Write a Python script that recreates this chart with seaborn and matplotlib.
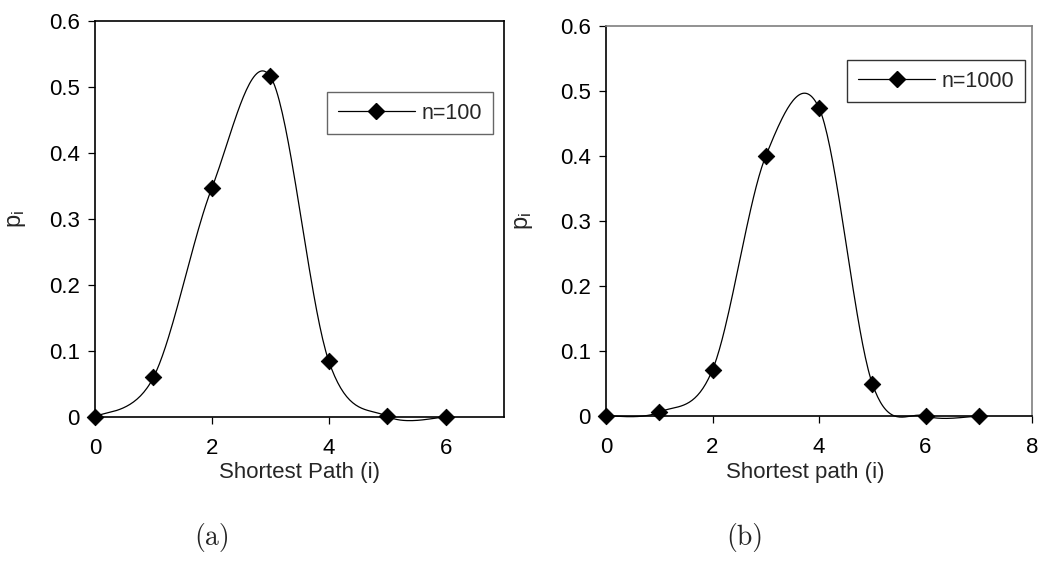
import numpy as np
import matplotlib
matplotlib.use("Agg")
import matplotlib.pyplot as plt
from matplotlib.lines import Line2D
import seaborn as sns

# Shortest-path length distributions
path_a = [0, 1, 2, 3, 4, 5, 6]
prob_a = [0.0, 0.06, 0.347, 0.516, 0.085, 0.001, 0.0]
label_a = "n=100"

path_b = [0, 1, 2, 3, 4, 5, 6, 7]
prob_b = [0.0, 0.006, 0.071, 0.400, 0.474, 0.050, 0.0, 0.0]
label_b = "n=1000"

y_ticks = [0, 0.1, 0.2, 0.3, 0.4, 0.5, 0.6]
y_tick_labels = ["0", "0.1", "0.2", "0.3", "0.4", "0.5", "0.6"]


def smooth_curve(x, y, steps=40):
    """Catmull-Rom cubic Bezier smoothing through every point."""
    x = np.asarray(x, float)
    y = np.asarray(y, float)
    pts = np.column_stack([x, y])
    ext = np.vstack([pts[0], pts, pts[-1]])
    out = []
    t = np.linspace(0, 1, steps)[:, None]
    for i in range(1, len(ext) - 2):
        p0, p1, p2, p3 = ext[i - 1], ext[i], ext[i + 1], ext[i + 2]
        c1 = p1 + (p2 - p0) / 6.0
        c2 = p2 - (p3 - p1) / 6.0
        seg = ((1 - t) ** 3) * p1 + 3 * ((1 - t) ** 2) * t * c1 \
            + 3 * (1 - t) * t ** 2 * c2 + t ** 3 * p2
        out.append(seg if i == 1 else seg[1:])
    curve = np.vstack(out)
    return curve[:, 0], curve[:, 1]


sns.set_style("ticks")
plt.rcParams["font.family"] = ["Liberation Sans", "DejaVu Sans"]
plt.rcParams["mathtext.fontset"] = "custom"
plt.rcParams["mathtext.rm"] = "Liberation Sans"
plt.rcParams["mathtext.it"] = "Liberation Sans"

fig = plt.figure(figsize=(10.43, 5.76), dpi=100)
W, H = 1043, 576

panels = [
    dict(x=path_a, y=prob_a, label=label_a, box=(95, 21, 504, 417),
         xlim=(0, 7), xticks=[0, 2, 4, 6], xlabel="Shortest Path (i)",
         xlabel_pos=(0.5, -0.113), ylabel_x=-0.164,
         legend_anchor=(0.973, 0.821),
         frame_color="#000000", legend_edge="#404040",
         caption="(a)", caption_x=212),
    dict(x=path_b, y=prob_b, label=label_b, box=(606, 26, 1032, 416),
         xlim=(0, 8), xticks=[0, 2, 4, 6, 8], xlabel="Shortest path (i)",
         xlabel_pos=(0.467, -0.117), ylabel_x=-0.167,
         legend_anchor=(0.984, 0.913),
         frame_color="#7f7f7f", legend_edge="#000000",
         caption="(b)", caption_x=745),
]

for p in panels:
    l, t, r, b = p["box"]
    ax = fig.add_axes([l / W, 1 - b / H, (r - l) / W, (b - t) / H])
    xs, ys = smooth_curve(p["x"], p["y"])
    sns.lineplot(x=xs, y=ys, ax=ax, color="black", lw=0.9, sort=False,
                 estimator=None, clip_on=False, zorder=3)
    sns.scatterplot(x=p["x"], y=p["y"], ax=ax, marker="D", s=70,
                    color="black", edgecolor="black", clip_on=False, zorder=4)
    ax.set_xlim(*p["xlim"])
    ax.set_ylim(0, 0.6)
    ax.set_xticks(p["xticks"])
    ax.set_xticklabels([str(v) for v in p["xticks"]])
    ax.set_yticks(y_ticks)
    ax.set_yticklabels(y_tick_labels)
    ax.tick_params(axis="both", direction="out", length=5, width=0.9,
                   colors="black", labelsize=16)
    ax.tick_params(axis="x", pad=10)
    ax.tick_params(axis="y", pad=6)
    for side in ["left", "bottom"]:
        ax.spines[side].set_color("black")
        ax.spines[side].set_linewidth(1.2)
    for side in ["top", "right"]:
        ax.spines[side].set_visible(True)
        ax.spines[side].set_color(p["frame_color"])
        ax.spines[side].set_linewidth(1.2)
    ax.set_xlabel(p["xlabel"], fontsize=16)
    ax.xaxis.set_label_coords(*p["xlabel_pos"])
    ax.set_ylabel(r"p$_\mathregular{i}$", fontsize=17)
    ax.yaxis.set_label_coords(p["ylabel_x"], 0.5)

    handle = Line2D([], [], color="black", lw=0.9, marker="D",
                    markersize=8, markerfacecolor="black")
    leg = ax.legend([handle], [p["label"]], loc="upper right",
                    bbox_to_anchor=p["legend_anchor"], fontsize=15.5,
                    handlelength=3.6, frameon=True, fancybox=False,
                    borderpad=0.5, handletextpad=0.3, borderaxespad=0)
    leg.get_frame().set_edgecolor(p["legend_edge"])
    leg.get_frame().set_linewidth(1.0)

    fig.text(p["caption_x"] / W, 1 - 537 / H, p["caption"],
             family=["cmr10", "DejaVu Serif"], fontsize=20,
             ha="center", va="center")

fig.savefig("out.png", dpi=100)
